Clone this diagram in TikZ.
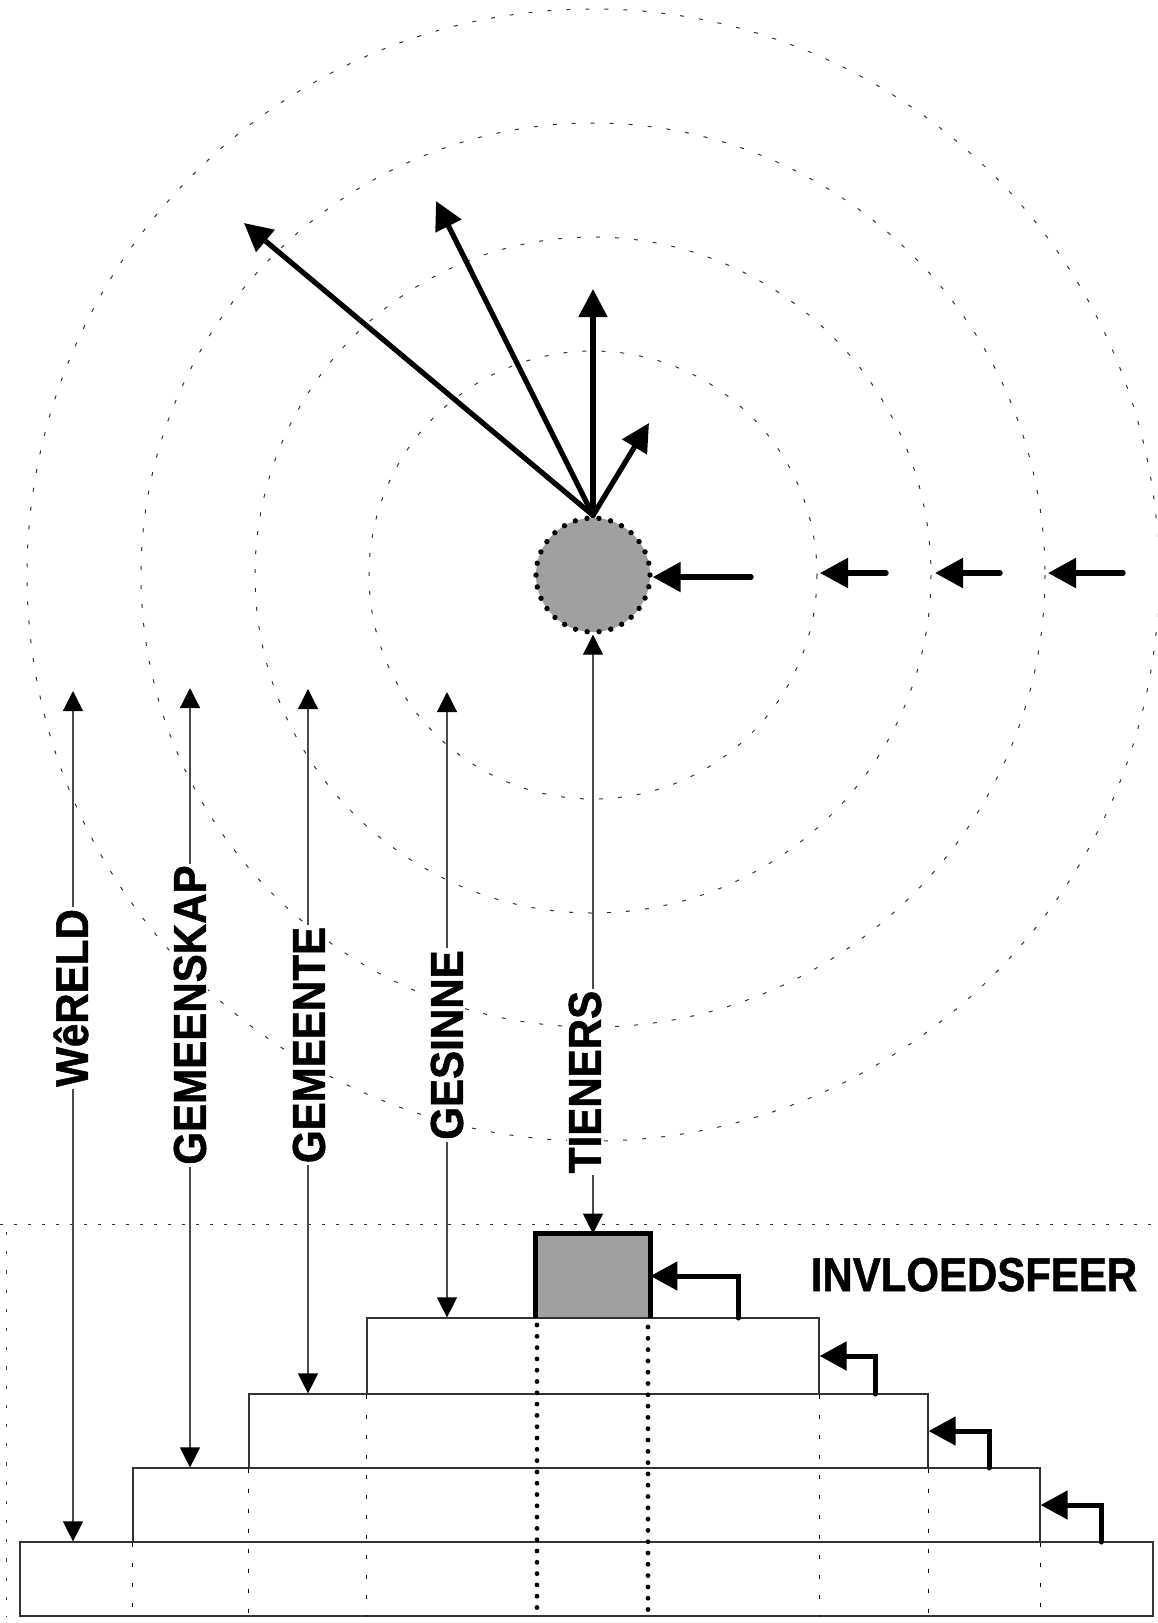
\documentclass[tikz,border=0pt]{standalone}
\usepackage{fontspec}
\setmainfont{Liberation Sans}
\newfontfamily\sfheavy[FakeBold=1.2]{Liberation Sans Bold}
\usepackage{tikz}
\usetikzlibrary{
  arrows.meta,
  positioning,
  calc
}
\definecolor{sfGrey}{HTML}{A0A0A0}
\definecolor{sfLine}{HTML}{4A4A4A}
\definecolor{sfDash}{HTML}{333333}
\tikzset{
  ring/.style={draw=sfDash, line width=0.5pt, dash pattern=on 2pt off 7.5pt},
  ray/.style={-{Triangle[length=14pt, width=14pt]}, line width=2.6pt, line cap=round},
  push/.style={-{Triangle[length=14pt, width=14.5pt]}, line width=2.7pt, line cap=round},
  bent/.style={-{Triangle[length=13.5pt, width=14pt]}, line width=2.5pt, line cap=round},
  reach/.style={
    {Triangle[length=10pt, width=10pt, color=black]}-{Triangle[length=10pt, width=10pt, color=black]},
    line width=0.6pt, draw=sfLine
  },
  tier/.style={draw=sfDash, line width=0.6pt, inner sep=0pt, minimum height=37pt},
  teenbox/.style={fill=sfGrey, inner sep=0pt, minimum width=57pt, minimum height=42pt},
  selfnode/.style={
    circle, fill=sfGrey, draw=black, line width=2.7pt, line cap=round,
    dash pattern=on 0pt off 5.97pt, minimum size=57pt, inner sep=0pt
  },
  edgeline/.style={draw=black, line width=0.5pt, dash pattern=on 2pt off 8pt},
  coreline/.style={draw=black, line width=2.4pt, line cap=round, dash pattern=on 0pt off 5.65pt},
  floorline/.style={draw=sfDash, line width=0.5pt, dash pattern=on 1.5pt off 5.5pt},
  sideline/.style={draw=sfDash, line width=0.5pt, dash pattern=on 1.6pt off 8pt},
  ringlabel/.style={
    rotate=90, xscale=0.915, fill=white, inner sep=1pt,
    font=\sfheavy\fontsize{23}{23}\selectfont
  },
  headline/.style={anchor=base, inner sep=0pt, xscale=0.885, font=\sfheavy\fontsize{23.7}{24}\selectfont}
}
\begin{document}
\begin{tikzpicture}[x=0.5pt, y=-0.5pt]
  \clip (0,0) rectangle (1157,1623);
  \node[selfnode] (self) at (593,575) {};
  \draw[ring] (self.center) circle[radius=224];
  \draw[ring] (self.center) circle[radius=338];
  \draw[ring] (self.center) circle[radius=452];
  \draw[ring] (self.center) circle[radius=566];

  \coordinate (rayA) at (244,223);
  \coordinate (rayB) at (436,201);
  \coordinate (rayC) at (593,289);
  \coordinate (rayD) at (649,423);
  \draw[ray] (self.north) -- (rayA);
  \draw[ray] (self.north) -- (rayB);
  \draw[ray] (self.north) -- (rayC);
  \draw[ray] (self.north) -- (rayD);

  \coordinate (pushA) at (751,577);
  \coordinate (pushB) at (886,573);
  \coordinate (pushC) at (1000,573);
  \coordinate (pushD) at (1123,573);
  \coordinate (ringB) at (820,573);
  \coordinate (ringC) at (935,573);
  \coordinate (ringD) at (1048,573);
  \draw[push] (pushA) -- (pushA -| self.east);
  \draw[push] (pushB) -- (ringB);
  \draw[push] (pushC) -- (ringC);
  \draw[push] (pushD) -- (ringD);

  \coordinate (floorA) at (0,1224);
  \coordinate (floorB) at (1157,1224);
  \coordinate (floorV) at (6,1232);
  \draw[floorline] (floorA) -- (floorB);

  \node[teenbox] (teen) at (593,1276) {};
  \node[tier, minimum width=566.5pt] (wereldBox) at (586.5,1579) {};
  \node[tier, minimum width=453.5pt] (gemeenskapBox) at (586.5,1505) {};
  \node[tier, minimum width=339.5pt] (gemeenteBox) at (588.5,1431) {};
  \node[tier, minimum width=226pt, minimum height=38pt] (gesinneBox) at (593,1356) {};
  \draw[line width=2.3pt] (teen.south west) |- (teen.north east) -- (teen.south east);

  \draw[sideline] (floorV) -- (floorV |- wereldBox.south);
  \draw[edgeline] (gemeenskapBox.south west) -- (gemeenskapBox.south west |- wereldBox.south);
  \draw[edgeline] (gemeenskapBox.south east) -- (gemeenskapBox.south east |- wereldBox.south);
  \draw[edgeline] (gemeenteBox.south west) -- (gemeenteBox.south west |- wereldBox.south);
  \draw[edgeline] (gemeenteBox.south east) -- (gemeenteBox.south east |- wereldBox.south);
  \draw[edgeline] (gesinneBox.south west) -- (gesinneBox.south west |- wereldBox.south);
  \draw[edgeline] (gesinneBox.south east) -- (gesinneBox.south east |- wereldBox.south);

  \coordinate (coreL) at (537,1325);
  \coordinate (coreR) at (648,1327);
  \draw[coreline] (coreL) -- (coreL |- wereldBox.south);
  \draw[coreline] (coreR) -- (coreR |- wereldBox.south);

  \coordinate (bendA) at (738,1318);
  \coordinate (bendB) at (875,1394);
  \coordinate (bendC) at (989,1468);
  \coordinate (bendD) at (1101,1542);
  \draw[bent] (bendA) |- (teen.east);
  \draw[bent] (bendB) |- (gesinneBox.east);
  \draw[bent] (bendC) |- (gemeenteBox.east);
  \draw[bent] (bendD) |- (gemeenskapBox.east);

  \coordinate (wereldTop) at (73,691);
  \coordinate (gemeenskapTop) at (190,688);
  \coordinate (gemeenteTop) at (308,689);
  \coordinate (gesinneTop) at (447,692);
  \draw[reach] (wereldTop) -- (wereldTop |- wereldBox.north);
  \draw[reach] (gemeenskapTop) -- (gemeenskapTop |- gemeenskapBox.north);
  \draw[reach] (gemeenteTop) -- (gemeenteTop |- gemeenteBox.north);
  \draw[reach] (gesinneTop) -- (gesinneTop |- gesinneBox.north);
  \draw[reach] (self.south) -- (teen.north);

  \node[ringlabel] (wereldLbl) at (71,998) {WêRELD};
  \node[ringlabel] (gemeenskapLbl) at (190,1015) {GEMEENSKAP};
  \node[ringlabel] (gemeenteLbl) at (309,1045) {GEMEENTE};
  \node[ringlabel] (gesinneLbl) at (447,1045) {GESINNE};
  \node[ringlabel] (tienersLbl) at (585,1082) {TIENERS};
  \node[headline] (sphereLbl) at (974,1291) {INVLOEDSFEER};
\end{tikzpicture}
\end{document}
